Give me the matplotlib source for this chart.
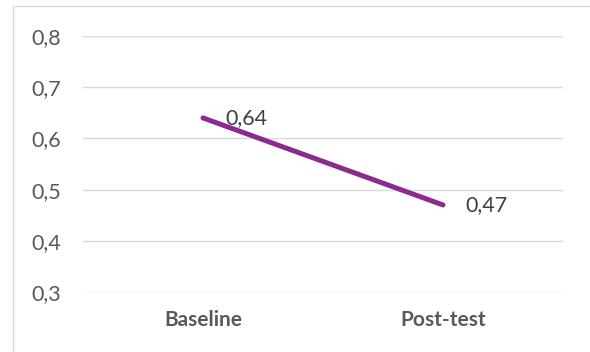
import matplotlib.pyplot as plt
from matplotlib.patches import Rectangle
from matplotlib.ticker import FuncFormatter

categories = ["Baseline", "Post-test"]
values = [0.64, 0.47]
yticks = [0.3, 0.4, 0.5, 0.6, 0.7, 0.8]

plt.rcParams['font.family'] = ['Lato', 'DejaVu Sans']
text_color = '#595959'

fig = plt.figure(figsize=(5.9, 3.52), dpi=100)
W, H = 590, 352

# light frame around the chart area
fig.patches.append(Rectangle((13 / W, -0.05), 1.0, 1 - 6 / H + 0.05,
                             transform=fig.transFigure, fill=False,
                             edgecolor='#D9D9D9', linewidth=1.0))

ax = fig.add_axes([83 / W, 1 - 292 / H, 480 / W, 256 / H])
x = [0.5, 1.5]
ax.plot(x, values, color='#8B2A90', linewidth=3.6, solid_capstyle='round', zorder=3)

for xi, v in zip(x, values):
    ax.annotate(f"{v:.2f}".replace('.', ','), (xi, v), xytext=(16, 0),
                textcoords='offset points', va='center', ha='left',
                fontsize=15.5, color='#404040')

ax.set_xlim(0, 2)
ax.set_ylim(0.3, 0.8)
ax.set_yticks(yticks)
ax.yaxis.set_major_formatter(FuncFormatter(lambda v, p: f"{v:.1f}".replace('.', ',')))
ax.set_xticks(x)
ax.set_xticklabels(categories, fontweight='bold')
ax.grid(axis='y', color='#D9D9D9', linewidth=1.0)
ax.set_axisbelow(True)
for s in ax.spines.values():
    s.set_visible(False)
ax.tick_params(axis='y', length=0, pad=16, labelsize=15.5, labelcolor=text_color)
ax.tick_params(axis='x', length=0, pad=13, labelsize=15, labelcolor=text_color)

fig.savefig('out.png', dpi=100)
